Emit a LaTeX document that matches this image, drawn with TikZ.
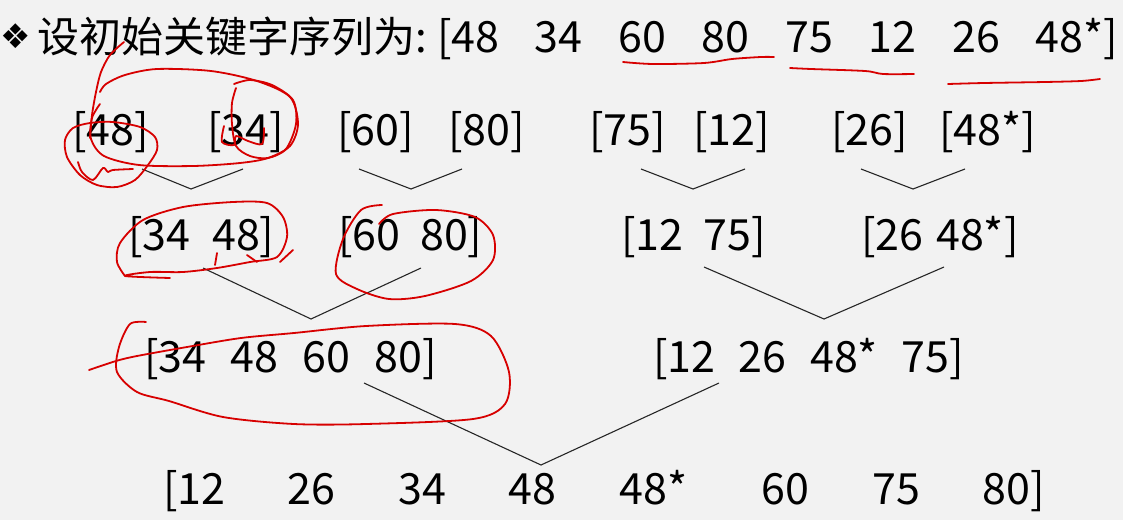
\documentclass[tikz,border=0pt]{standalone}
\usepackage{fontspec}
\setmainfont{Noto Sans CJK SC}
\newfontfamily\symfont{DejaVu Sans}
\definecolor{bgcol}{RGB}{242,242,242}
\definecolor{inkred}{RGB}{215,0,0}
\begin{document}
\begin{tikzpicture}[x=1pt,y=-1pt,
  lbl/.style={inner sep=0pt, outer sep=0pt, anchor=base west, font=\fontsize{43}{50}\selectfont, text=black},
  cjklbl/.style={inner sep=0pt, outer sep=0pt, anchor=base west, font=\fontsize{42}{50}\selectfont, text=black},
  conn/.style={line width=1.1pt, draw=black!85, line join=miter},
  ink/.style={line width=1.8pt, draw=inkred, line cap=round, line join=round}]
\useasboundingbox (0,0) rectangle (1123,520);
\fill[bgcol] (0,0) rectangle (1123,520);

% title
\node[inner sep=0pt, font=\symfont\fontsize{34}{36}\selectfont] (bullet) at (16,36) {❖};
\node[cjklbl] (title) at (37,52) {设初始关键字序列为:};
\node[lbl] (seq) at (437,52) {\makebox[681pt][s]{[48\hfill34\hfill60\hfill80\hfill75\hfill12\hfill26\hfill48*]}};

% row 1
\node[lbl] (a1) at (72,145) {[48]};
\node[lbl] (a2) at (207,145) {[34]};
\node[lbl] (a3) at (337,145) {[60]};
\node[lbl] (a4) at (448,145) {[80]};
\node[lbl] (a5) at (589,145) {[75]};
\node[lbl] (a6) at (693,145) {[12]};
\node[lbl] (a7) at (831,145) {[26]};
\node[lbl] (a8) at (939,145) {[48*]};

% row 2
\node[lbl] (b1) at (128,250) {[34\hspace{22pt}48]};
\node[lbl] (b2) at (338,250) {[60\hspace{20pt}80]};
\node[lbl] (b3) at (621,250) {[12\hspace{20pt}75]};
\node[lbl] (b4) at (861,250) {[26\hspace{13pt}48*]};

% row 3
\node[lbl] (c1) at (144,372) {\makebox[293pt][s]{[34\hfill48\hfill60\hfill80]}};
\node[lbl] (c2) at (653,372) {\makebox[311pt][s]{[12\hfill26\hfill48*\hfill75]}};

% row 4
\node[lbl] (d1) at (163,504) {\makebox[882pt][s]{[12\hfill26\hfill34\hfill48\hfill48*\hspace{12pt}\hfill60\hfill75\hfill80]}};

% merge connectors
\coordinate (v1l) at (142,169); \coordinate (v1m) at (191,189); \coordinate (v1r) at (243,169);
\coordinate (v2l) at (359,169); \coordinate (v2m) at (411,189); \coordinate (v2r) at (462,169);
\coordinate (v3l) at (641,169); \coordinate (v3m) at (693,189); \coordinate (v3r) at (745,169);
\coordinate (v4l) at (861,169); \coordinate (v4m) at (913,189); \coordinate (v4r) at (965,169);
\coordinate (v5l) at (203,268); \coordinate (v5m) at (311,319); \coordinate (v5r) at (421,268);
\coordinate (v6l) at (704,267); \coordinate (v6m) at (824,319); \coordinate (v6r) at (944,267);
\coordinate (v7l) at (364,383); \coordinate (v7m) at (541,465); \coordinate (v7r) at (719,383);
\draw[conn] (v1l) -- (v1m) -- (v1r);
\draw[conn] (v2l) -- (v2m) -- (v2r);
\draw[conn] (v3l) -- (v3m) -- (v3r);
\draw[conn] (v4l) -- (v4m) -- (v4r);
\draw[conn] (v5l) -- (v5m) -- (v5r);
\draw[conn] (v6l) -- (v6m) -- (v6r);
\draw[conn] (v7l) -- (v7m) -- (v7r);

% red hand-drawn annotations
\draw[ink] plot[smooth] coordinates {(623,62) (653,64) (704,63) (732,59) (761,57) (774,57)};
\draw[ink] plot[smooth] coordinates {(790,68) (811,69) (865,71) (883,74) (914,74)};
\draw[ink] plot[smooth] coordinates {(948,84) (984,83) (1045,82) (1081,81) (1100,79)};
\draw[ink] plot[smooth] coordinates {(124,42) (110,55) (101,72) (96,92) (92,115) (90,138)};
\draw[ink] plot[smooth] coordinates {(100,92) (106,84) (125,75) (157,69) (211,71) (257,81) (290,97) (298,124) (290,146) (268,158) (240,163) (193,166) (139,165) (104,156) (91,139) (92,118) (100,104)};
\draw[ink] plot[smooth] coordinates {(234,84) (250,80) (272,85) (293,100) (296,124) (286,149) (268,158) (250,156) (236,146) (232,124) (232,103) (236,88)};
\draw[ink] plot[smooth] coordinates {(224,126) (222,142) (234,145) (236,136) (248,141) (262,144) (264,128)};
\draw[ink] plot[smooth cycle] coordinates {(90,123) (113,122) (140,127) (155,137) (157,150) (148,165) (135,180) (117,187) (97,185) (80,175) (67,157) (65,140) (73,128)};
\draw[ink] plot[smooth] coordinates {(78,162) (82,172) (93,180) (103,168) (108,172) (113,170) (133,169)};
\draw[ink] plot[smooth] coordinates {(125,276) (117,262) (120,243) (143,220) (183,207) (233,202) (267,203) (283,217) (287,237) (277,257) (250,262) (217,268) (183,272) (150,272) (125,276) (170,278)};
\draw[ink] plot[smooth] coordinates {(217,253) (215,265)};
\draw[ink] plot[smooth] coordinates {(247,255) (257,262)};
\draw[ink] plot[smooth] coordinates {(293,250) (280,262)};
\draw[ink] plot[smooth] coordinates {(382,205) (361,210) (343,239) (336,274) (357,289) (389,299) (425,296) (471,281) (493,260) (493,235) (475,217) (436,210) (393,214) (379,224)};
\draw[ink] plot[smooth] coordinates {(89,370) (116,361) (137,356) (187,347) (241,338) (294,333) (366,326) (455,324) (491,336) (509,372) (505,404) (473,419) (366,424) (294,424) (223,417) (169,401) (137,392) (117,372) (119,347) (130,324) (146,322)};
\end{tikzpicture}
\end{document}
